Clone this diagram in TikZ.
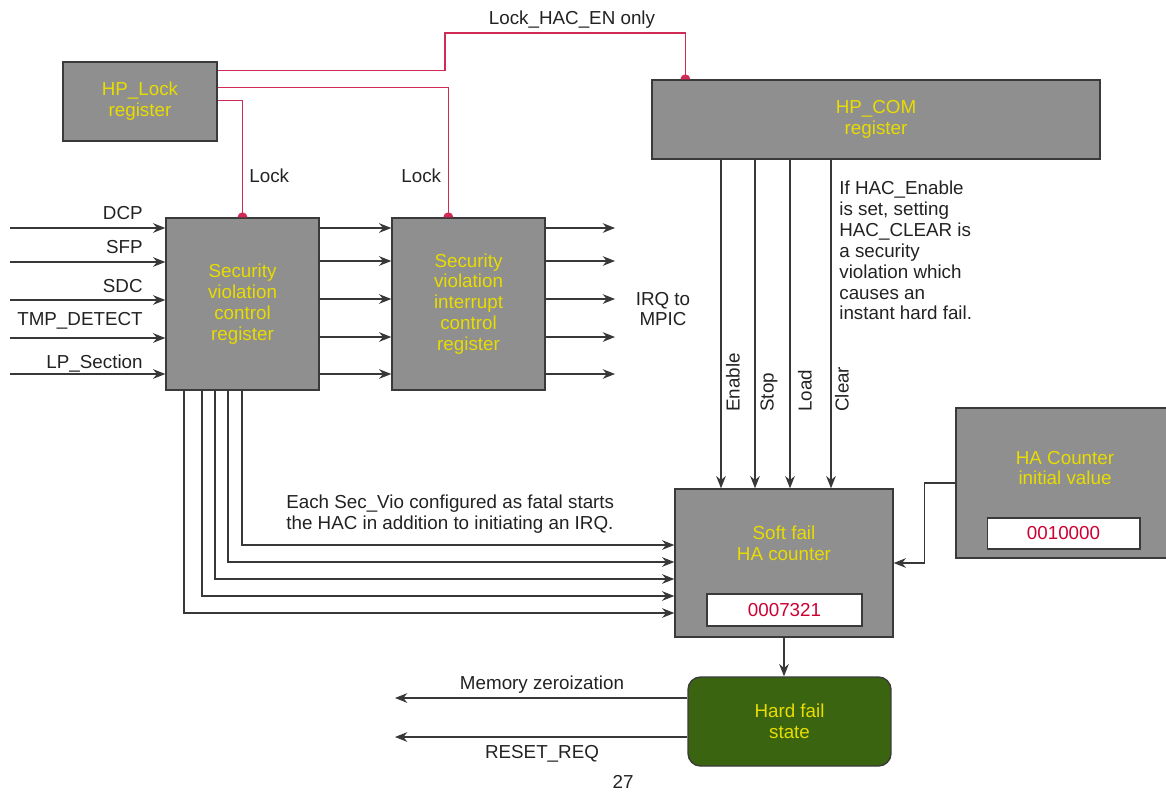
\documentclass[tikz,border=0pt]{standalone}
\usepackage{fontspec}
\setmainfont{Liberation Sans}
\usetikzlibrary{arrows.meta,calc}
\definecolor{regfill}{HTML}{8F8F8F}
\definecolor{regedge}{HTML}{3A3A3A}
\definecolor{regtext}{HTML}{E8DC00}
\definecolor{valred}{HTML}{CC0033}
\definecolor{lockred}{HTML}{D02A55}
\definecolor{wiregray}{HTML}{383838}
\definecolor{notegray}{HTML}{222222}
\definecolor{failgreen}{HTML}{3A6410}
\begin{document}
\begin{tikzpicture}[x=0.02cm, y=-0.02cm, >={Stealth[length=7pt, width=5.5pt]},
    font=\fontsize{10.7}{11.9}\selectfont,
    regbox/.style={draw=regedge, fill=regfill, line width=0.8pt, text=regtext, align=center, inner sep=0pt},
    valbox/.style={draw=regedge, fill=white, line width=0.6pt, text=valred, inner sep=0pt},
    wire/.style={draw=wiregray, line width=0.65pt},
    lockline/.style={draw=lockred, line width=0.7pt},
    note/.style={text=notegray, align=left, inner sep=0pt}]
    \useasboundingbox (0,0) rectangle (1166,792);
    \clip (0,0) rectangle (1166,792);
    % registers
    \node[regbox, minimum width=3.08cm, minimum height=1.58cm] (hplock) at (140,101.5) {HP\_Lock\\register};
    \node[regbox, minimum width=8.96cm, minimum height=1.58cm] (hpcom) at (876,119.5) {HP\_COM\\register};
    \node[regbox, minimum width=3.06cm, minimum height=3.44cm] (svcr) at (242.5,304) {Security\\violation\\control\\register};
    \node[regbox, minimum width=3.06cm, minimum height=3.44cm] (svir) at (468.5,304) {Security\\violation\\interrupt\\control\\register};
    \node[regbox, minimum width=4.36cm, minimum height=2.96cm] (softfail) at (784,563) {};
    \node[regtext, align=center] (sflabel) at (784,543) {Soft fail\\HA counter};
    \node[valbox, minimum width=3.1cm, minimum height=0.64cm] (sfval) at (784.5,610) {0007321};
    \node[regbox, minimum width=4.36cm, minimum height=3cm] (hacinit) at (1065,483) {};
    \node[regtext, align=center] (hilabel) at (1065,468) {HA Counter\\initial value};
    \node[valbox, minimum width=3.06cm, minimum height=0.62cm] (hival) at (1063.5,533.5) {0010000};
    \node[regbox, fill=failgreen, rounded corners=0.25cm, minimum width=4.06cm, minimum height=1.78cm] (hardfail) at (789.5,721.5) {Hard fail\\state};
    % lock lines
    \coordinate (lockcom) at ($(hpcom.north west)+(34,0)$);
    \coordinate (lockir) at ($(svir.north west)+(57,0)$);
    \coordinate (lockvc) at (svcr.north);
    \draw[lockline] ($(hplock.north east)+(0,9)$) -| (445,33) -| (lockcom);
    \draw[lockline] ($(hplock.north east)+(0,26)$) -| (lockir);
    \draw[lockline] ($(hplock.north east)+(0,39)$) -| (lockvc);
    \foreach \p in {lockcom, lockir, lockvc}
        \fill[lockred] (\p) ++(-5,0) arc[start angle=180, end angle=360, radius=5];
    \node[note] (lockhac) at (572,20) {Lock\_HAC\_EN only};
    \node[note, anchor=west] (lockA) at (249,176) {Lock};
    \node[note, anchor=west] (lockB) at (401,176) {Lock};
    % inputs
    \foreach \y/\name/\ly [count=\i] in {228/DCP/213, 262/SFP/247, 300/SDC/286, 338/TMP\_DETECT/321, 374/LP\_Section/364} {
        \coordinate (in\i) at (10,\y);
        \draw[wire, ->] (in\i) -- (in\i -| svcr.west);
        \node[note, anchor=east] (inlab\i) at (143,\ly) {\name};
    }
    \foreach \y [count=\i] in {228,261,299,337,374} {
        \draw[wire, ->] (svcr.east |- 0,\y) -- (svir.west |- 0,\y);
        \coordinate (irq\i) at (615,\y);
        \draw[wire, ->] (svir.east |- irq\i) -- (irq\i);
    }
    \node[note, align=center] (irqlab) at (663,309) {IRQ to\\MPIC};
    % fatal violations to the counter
    \foreach \x/\y in {242/545, 228/562, 215/579, 202/596, 184/613}
        \draw[wire, ->] (\x,0 |- svcr.south) |- (softfail.west |- 0,\y);
    \node[note, anchor=west] (fatal) at (286,514) {Each Sec\_Vio configured as fatal starts\\the HAC in addition to initiating an IRQ.};
    % HP_COM commands
    \foreach \x/\lx/\lab [count=\i] in {721/733/Enable, 755/769/Stop, 790/805/Load, 831/842/Clear} {
        \draw[wire, ->] (\x,0 |- hpcom.south) -- (\x,0 |- softfail.north);
        \node[note, rotate=90, anchor=west] (cmd\i) at (\lx,412) {\lab};
    }
    \node[note, anchor=west] (clearnote) at (839,250.5) {If HAC\_Enable\\is set, setting\\HAC\_CLEAR is\\a security\\violation which\\causes an\\instant hard fail.};
    \draw[wire, ->] (hacinit.west) -- ++(-31,0) |- (softfail.east);
    \draw[wire, ->] (softfail.south) -- (softfail.south |- hardfail.north);
    % outputs
    \coordinate (memout) at (395,698);
    \coordinate (rstout) at (395,737);
    \draw[wire, ->] (hardfail.west |- memout) -- (memout);
    \draw[wire, ->] (hardfail.west |- rstout) -- (rstout);
    \node[note] (memlab) at (542,685) {Memory zeroization};
    \node[note] (rstlab) at (542,754) {RESET\_REQ};
    \node[note] (pagenum) at (623,782) {27};
\end{tikzpicture}
\end{document}
